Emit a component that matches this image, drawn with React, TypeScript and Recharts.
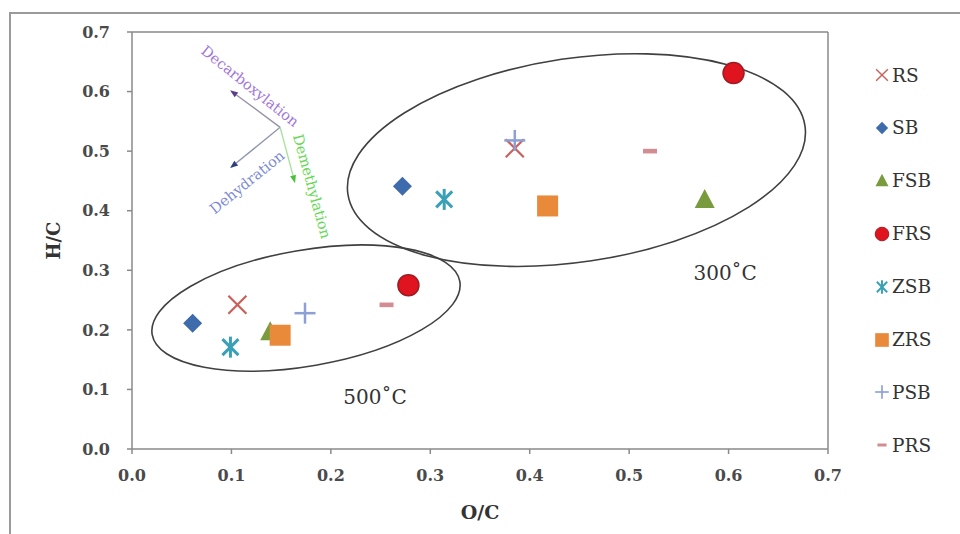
import React from 'react';
import {
  ScatterChart,
  Scatter,
  XAxis,
  YAxis,
  ReferenceLine,
  ReferenceArea,
  ReferenceDot,
  Label,
  Legend,
} from 'recharts';

// ---------- data ----------
const seriesNames = ['RS', 'SB', 'FSB', 'FRS', 'ZSB', 'ZRS', 'PSB', 'PRS'];
const seriesColors = ['#c9605a', '#3d6bab', '#7a9a3e', '#e0141e', '#3aa0b5', '#e98a3b', '#8c9fd6', '#d48c93'];
const seriesShapes = ['cross', 'diamond', 'triangle', 'circle', 'asterisk', 'square', 'plus', 'dash'];

// each series: [300°C point, 500°C point]  (x = O/C, y = H/C)
const rsData = [{ x: 0.385, y: 0.505 }, { x: 0.106, y: 0.242 }];
const sbData = [{ x: 0.272, y: 0.441 }, { x: 0.061, y: 0.211 }];
const fsbData = [{ x: 0.576, y: 0.418 }, { x: 0.139, y: 0.196 }];
const frsData = [{ x: 0.605, y: 0.631 }, { x: 0.278, y: 0.275 }];
const zsbData = [{ x: 0.314, y: 0.419 }, { x: 0.099, y: 0.171 }];
const zrsData = [{ x: 0.418, y: 0.408 }, { x: 0.149, y: 0.191 }];
const psbData = [{ x: 0.385, y: 0.518 }, { x: 0.174, y: 0.228 }];
const prsData = [{ x: 0.521, y: 0.5 }, { x: 0.256, y: 0.242 }];
const seriesData = [rsData, sbData, fsbData, frsData, zsbData, zrsData, psbData, prsData];

const xTicks = [0, 0.1, 0.2, 0.3, 0.4, 0.5, 0.6, 0.7];
const yTicks = [0, 0.1, 0.2, 0.3, 0.4, 0.5, 0.6, 0.7];

// ---------- annotations (in data units) ----------
const ellipseCenters = [{ x: 0.447, y: 0.485 }, { x: 0.175, y: 0.2366 }];
const ellipseSemiX = [0.2324, 0.157];
const ellipseSemiY = [0.171, 0.0973];
const ellipseTilt = [-8.5, -9.8];

const tempLabels = ['300˚C', '500˚C'];
const tempLabelPos = [{ x: 0.5966, y: 0.2953 }, { x: 0.2445, y: 0.0872 }];

const arrowOrigin = { x: 0.149, y: 0.54 };
const arrowEnds = [{ x: 0.0986, y: 0.6023 }, { x: 0.0986, y: 0.4715 }, { x: 0.164, y: 0.4463 }];
const arrowLineColors = ['#9a94a8', '#9096b0', '#a8e29c'];
const arrowHeadColors = ['#5a3d8a', '#2d3e7a', '#49c23a'];

const pathwayLabels = ['Decarboxylation', 'Dehydration', 'Demethylation'];
const pathwayLabelPos = [{ x: 0.1187, y: 0.609 }, { x: 0.1157, y: 0.448 }, { x: 0.181, y: 0.441 }];
const pathwayAngles = [38.7, -39, 74.5];
const pathwayColors = ['#a276d8', '#7d8ad6', '#66d855'];

const FONT = '"DejaVu Serif", "Liberation Serif", serif';
const AXIS_COLOR = '#8a8a8a';

// ---------- markers ----------
function markerSvg(kind: string, color: string, cx: number, cy: number, s: number) {
  switch (kind) {
    case 'cross': {
      const h = 9 * s;
      return (
        <g stroke={color} strokeWidth={2.2 * s}>
          <line x1={cx - h} y1={cy - h} x2={cx + h} y2={cy + h} />
          <line x1={cx - h} y1={cy + h} x2={cx + h} y2={cy - h} />
        </g>
      );
    }
    case 'diamond': {
      const h = 9.5 * s;
      return <polygon points={`${cx},${cy - h} ${cx + h},${cy} ${cx},${cy + h} ${cx - h},${cy}`} fill={color} />;
    }
    case 'triangle': {
      return (
        <polygon
          points={`${cx},${cy - 11 * s} ${cx + 10 * s},${cy + 8 * s} ${cx - 10 * s},${cy + 8 * s}`}
          fill={color}
        />
      );
    }
    case 'circle':
      return <circle cx={cx} cy={cy} r={10.5 * s} fill={color} stroke="#a01a22" strokeWidth={1.5 * s} />;
    case 'asterisk': {
      const h = 8 * s;
      const v = 10.5 * s;
      return (
        <g stroke={color} strokeWidth={3 * s}>
          <line x1={cx - h} y1={cy - h} x2={cx + h} y2={cy + h} />
          <line x1={cx - h} y1={cy + h} x2={cx + h} y2={cy - h} />
          <line x1={cx} y1={cy - v} x2={cx} y2={cy + v} />
        </g>
      );
    }
    case 'square': {
      const h = 10.5 * s;
      return <rect x={cx - h} y={cy - h} width={2 * h} height={2 * h} fill={color} />;
    }
    case 'plus': {
      const h = 10.5 * s;
      return (
        <g stroke={color} strokeWidth={2.5 * s}>
          <line x1={cx - h} y1={cy} x2={cx + h} y2={cy} />
          <line x1={cx} y1={cy - h} x2={cx} y2={cy + h} />
        </g>
      );
    }
    case 'dash':
    default:
      return <rect x={cx - 7 * s} y={cy - 2.3 * s} width={14 * s} height={4.6 * s} fill={color} />;
  }
}

const makeShape = (kind: string, color: string) => (props: any) => {
  const { cx, cy } = props;
  if (cx == null || cy == null) return <g />;
  return markerSvg(kind, color, cx, cy, 1);
};

const makeEllipse = (tilt: number) => (props: any) => {
  const { x, y, width, height } = props;
  const cx = x + width / 2;
  const cy = y + height / 2;
  return (
    <ellipse
      cx={cx}
      cy={cy}
      rx={Math.abs(width) / 2}
      ry={Math.abs(height) / 2}
      fill="none"
      stroke="#404040"
      strokeWidth={1.6}
      transform={`rotate(${tilt} ${cx} ${cy})`}
    />
  );
};

const makeArrow = (lineColor: string, headColor: string) => (props: any) => {
  const { x1, y1, x2, y2 } = props;
  const dx = x2 - x1;
  const dy = y2 - y1;
  const len = Math.sqrt(dx * dx + dy * dy) || 1;
  const ux = dx / len;
  const uy = dy / len;
  const hl = 8;
  const hw = 3;
  const bx = x2 - ux * hl;
  const by = y2 - uy * hl;
  return (
    <g>
      <line x1={x1} y1={y1} x2={bx} y2={by} stroke={lineColor} strokeWidth={1.4} />
      <polygon
        points={`${x2},${y2} ${bx - uy * hw},${by + ux * hw} ${bx + uy * hw},${by - ux * hw}`}
        fill={headColor}
      />
    </g>
  );
};

const makeRotText = (text: string, angle: number, color: string, size: number, weight = 'normal') => (props: any) => {
  const { cx, cy } = props;
  return (
    <text
      x={cx}
      y={cy}
      fill={color}
      fontSize={size}
      fontFamily={FONT}
      fontWeight={weight}
      textAnchor="middle"
      dominantBaseline="central"
      transform={`rotate(${angle} ${cx} ${cy})`}
    >
      {text}
    </text>
  );
};

const renderLegend = () => (
  <div style={{ position: 'relative', width: 90, height: 400 }}>
    {seriesNames.map((name, i) => (
      <div
        key={name}
        style={{
          position: 'absolute',
          left: 0,
          top: i * 52.9,
          height: 22,
          display: 'flex',
          alignItems: 'center',
          fontFamily: FONT,
          fontSize: 18.5,
          color: '#333',
        }}
      >
        <svg width={16} height={16} style={{ marginRight: 2 }}>
          {markerSvg(seriesShapes[i], seriesColors[i], 8, 8, 0.65)}
        </svg>
        <span>{name}</span>
      </div>
    ))}
  </div>
);

const tickStyle = { fill: '#4a4a4a', fontFamily: FONT, fontWeight: 'bold' as const, fontSize: 16 };

export default function App() {
  return (
    <div style={{ position: 'absolute', left: 0, top: 0, width: 960, height: 534, overflow: 'hidden', background: '#fff' }}>
      <div
        style={{
          position: 'absolute',
          left: 9,
          top: 12,
          width: 980,
          height: 560,
          borderTop: '2px solid #9a9a9a',
          borderLeft: '2px solid #9a9a9a',
        }}
      />
      <ScatterChart width={960} height={534} margin={{ top: 32, right: 132, bottom: 35, left: 0 }}>
        <XAxis
          type="number"
          dataKey="x"
          domain={[0, 0.7]}
          ticks={xTicks}
          tickFormatter={(v: number) => v.toFixed(1)}
          stroke={AXIS_COLOR}
          strokeWidth={1.5}
          tick={tickStyle}
          tickSize={5}
          tickMargin={16}
          height={50}
          allowDataOverflow
        >
          <Label
            value="O/C"
            position="center"
            dy={38}
            style={{ fontFamily: FONT, fontWeight: 'bold', fontSize: 19, fill: '#333' }}
          />
        </XAxis>
        <YAxis
          type="number"
          dataKey="y"
          domain={[0, 0.7]}
          ticks={yTicks}
          tickFormatter={(v: number) => v.toFixed(1)}
          stroke={AXIS_COLOR}
          strokeWidth={1.5}
          tick={tickStyle}
          tickSize={5}
          tickMargin={17}
          width={132}
          allowDataOverflow
        >
          <Label
            value="H/C"
            angle={-90}
            position="center"
            dx={-12}
            style={{ fontFamily: FONT, fontWeight: 'bold', fontSize: 18, fill: '#333', textAnchor: 'middle' }}
          />
        </YAxis>
        <ReferenceLine y={0.7} stroke={AXIS_COLOR} strokeWidth={1.5} />
        <ReferenceLine x={0.7} stroke={AXIS_COLOR} strokeWidth={1.5} />

        {ellipseCenters.map((c, i) => (
          <ReferenceArea
            key={'e' + i}
            x1={c.x - ellipseSemiX[i]}
            x2={c.x + ellipseSemiX[i]}
            y1={c.y - ellipseSemiY[i]}
            y2={c.y + ellipseSemiY[i]}
            ifOverflow="visible"
            shape={makeEllipse(ellipseTilt[i])}
          />
        ))}

        {arrowEnds.map((e, i) => (
          <ReferenceLine
            key={'a' + i}
            segment={[arrowOrigin, e]}
            ifOverflow="visible"
            shape={makeArrow(arrowLineColors[i], arrowHeadColors[i])}
          />
        ))}

        {pathwayLabels.map((t, i) => (
          <ReferenceDot
            key={'p' + i}
            x={pathwayLabelPos[i].x}
            y={pathwayLabelPos[i].y}
            ifOverflow="visible"
            shape={makeRotText(t, pathwayAngles[i], pathwayColors[i], 14.5)}
          />
        ))}

        {tempLabels.map((t, i) => (
          <ReferenceDot
            key={'t' + i}
            x={tempLabelPos[i].x}
            y={tempLabelPos[i].y}
            ifOverflow="visible"
            shape={makeRotText(t, 0, '#333', 20)}
          />
        ))}

        {seriesNames.map((name, i) => (
          <Scatter
            key={name}
            name={name}
            data={seriesData[i]}
            fill={seriesColors[i]}
            shape={makeShape(seriesShapes[i], seriesColors[i])}
            isAnimationActive={false}
          />
        ))}

        <Legend
          layout="vertical"
          align="center"
          verticalAlign="middle"
          content={renderLegend}
          wrapperStyle={{ left: 874, top: 64, width: 90, height: 400 }}
        />
      </ScatterChart>
    </div>
  );
}
